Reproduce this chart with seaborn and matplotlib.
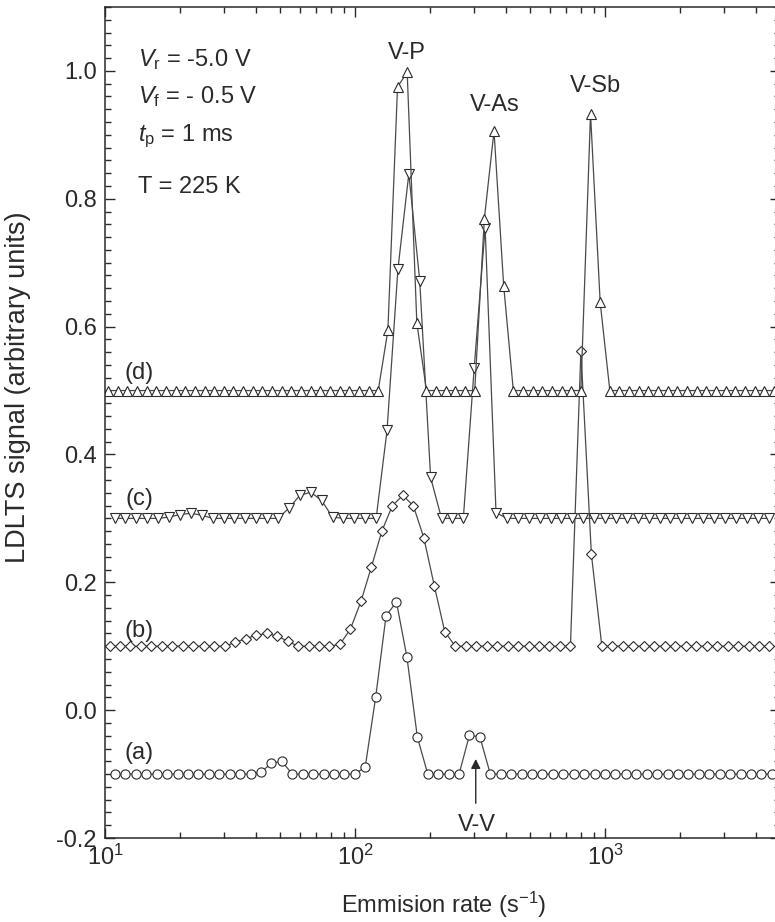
import numpy as np
import matplotlib
matplotlib.use("Agg")
import matplotlib.pyplot as plt
import matplotlib.ticker as mticker
import seaborn as sns

# Sampling grids of each spectrum: log10 of first rate, log10 step, point count
grid_a = (1.040, 0.0417, 64)
grid_b = (1.018, 0.0419, 64)
grid_c = (1.038, 0.0436, 61)
grid_d = (1.012, 0.0386, 70)

# LDLTS signal (arbitrary units), offset spectra
sig_a = [-0.1, -0.1, -0.1, -0.1, -0.1, -0.1, -0.1, -0.1, -0.1, -0.1, -0.1, -0.1, -0.1, -0.1,
         -0.097, -0.083, -0.080,
         -0.1, -0.1, -0.1, -0.1, -0.1, -0.1, -0.1,
         -0.089, 0.020, 0.148, 0.169, 0.083, -0.042,
         -0.1, -0.1, -0.1, -0.1,
         -0.039, -0.042,
         -0.1, -0.1, -0.1, -0.1, -0.1, -0.1, -0.1, -0.1, -0.1, -0.1, -0.1, -0.1, -0.1, -0.1,
         -0.1, -0.1, -0.1, -0.1, -0.1, -0.1, -0.1, -0.1, -0.1, -0.1, -0.1, -0.1, -0.1, -0.1]

sig_b = [0.1, 0.1, 0.1, 0.1, 0.1, 0.1, 0.1, 0.1, 0.1, 0.1, 0.1, 0.1,
         0.106, 0.112, 0.117, 0.120, 0.116, 0.108,
         0.1, 0.1, 0.1, 0.1,
         0.103, 0.127, 0.170, 0.224, 0.280, 0.320, 0.336, 0.320, 0.270, 0.195, 0.123,
         0.1, 0.1, 0.1, 0.1, 0.1, 0.1, 0.1, 0.1, 0.1, 0.1, 0.1, 0.1,
         0.5625, 0.244,
         0.1, 0.1, 0.1, 0.1, 0.1, 0.1, 0.1, 0.1, 0.1, 0.1, 0.1, 0.1, 0.1, 0.1, 0.1, 0.1, 0.1]

sig_c = [0.3, 0.3, 0.3, 0.3, 0.3,
         0.302, 0.306, 0.308, 0.305,
         0.3, 0.3, 0.3, 0.3, 0.3, 0.3, 0.3,
         0.316, 0.336, 0.341, 0.328, 0.302,
         0.3, 0.3, 0.3, 0.3,
         0.4375, 0.690, 0.839, 0.672, 0.364,
         0.3, 0.3, 0.3,
         0.536, 0.755, 0.309,
         0.3, 0.3, 0.3, 0.3, 0.3, 0.3, 0.3, 0.3, 0.3, 0.3, 0.3, 0.3, 0.3,
         0.3, 0.3, 0.3, 0.3, 0.3, 0.3, 0.3, 0.3, 0.3, 0.3, 0.3, 0.3]

sig_d = [0.5, 0.5, 0.5, 0.5, 0.5, 0.5, 0.5, 0.5, 0.5, 0.5, 0.5, 0.5, 0.5, 0.5, 0.5,
         0.5, 0.5, 0.5, 0.5, 0.5, 0.5, 0.5, 0.5, 0.5, 0.5, 0.5, 0.5, 0.5, 0.5,
         0.594, 0.975, 0.998, 0.606,
         0.5, 0.5, 0.5, 0.5, 0.5, 0.5,
         0.769, 0.906, 0.664,
         0.5, 0.5, 0.5, 0.5, 0.5, 0.5, 0.5, 0.5,
         0.933, 0.638,
         0.5, 0.5, 0.5, 0.5, 0.5, 0.5, 0.5, 0.5, 0.5, 0.5, 0.5, 0.5, 0.5, 0.5, 0.5, 0.5, 0.5, 0.5]

y_ticks = [-0.2, 0.0, 0.2, 0.4, 0.6, 0.8, 1.0]


def rates(grid):
    start, step, n = grid
    return np.logspace(start, start + step * (n - 1), n)


sns.set_style("ticks")
plt.rcParams['font.family'] = ['Liberation Sans', 'DejaVu Sans']
plt.rcParams['mathtext.fontset'] = 'custom'
plt.rcParams['mathtext.rm'] = 'Liberation Sans'
plt.rcParams['mathtext.it'] = 'Liberation Sans:italic'
plt.rcParams['axes.unicode_minus'] = False

ink = '#2a2a2a'
line_col = '#4a4a4a'
fs = 17

fig = plt.figure(figsize=(7.75, 9.22), dpi=100)
ax = fig.add_axes([0.1355, 0.0911, 0.871, 0.9013])

common = dict(ax=ax, color=line_col, linewidth=0.9, markerfacecolor='white',
              markeredgecolor=ink, markeredgewidth=0.8, legend=False)
sns.lineplot(x=rates(grid_a), y=sig_a, marker='o', markersize=6.6, **common)
sns.lineplot(x=rates(grid_b), y=sig_b, marker='D', markersize=4.8, **common)
sns.lineplot(x=rates(grid_c), y=sig_c, marker='v', markersize=7.2, **common)
sns.lineplot(x=rates(grid_d), y=sig_d, marker='^', markersize=7.2, **common)

ax.set_xscale('log')
ax.set_xlim(10, 5012)
ax.set_ylim(-0.2, 1.1)
ax.set_yticks(y_ticks)
ax.yaxis.set_major_formatter(mticker.FormatStrFormatter('%.1f'))
ax.yaxis.set_minor_locator(mticker.MultipleLocator(0.02))
ax.xaxis.set_minor_locator(mticker.LogLocator(base=10, subs=np.arange(2, 10)))
ax.xaxis.set_minor_formatter(mticker.NullFormatter())

ax.tick_params(which='both', direction='in', top=True, right=True, colors=ink,
               labelsize=fs, width=1.0)
ax.tick_params(which='major', length=7, pad=6)
ax.tick_params(which='minor', length=4)
ax.tick_params(axis='x', which='major', pad=5)
for sp in ax.spines.values():
    sp.set_color(ink)
    sp.set_linewidth(1.1)

ax.set_xlabel('Emmision rate (s$^{-1}$)', fontsize=fs, color=ink)
ax.set_ylabel('LDLTS signal (arbitrary units)', fontsize=19.5, color=ink)
ax.xaxis.set_label_coords(0.502, -0.062)
ax.yaxis.set_label_coords(-0.110, 0.543)

# measurement conditions
x_par = 13.6
ax.text(x_par, 1.008, r'$V_{\mathrm{r}}$ = -5.0 V', fontsize=fs, color=ink, va='baseline')
ax.text(x_par, 0.950, r'$V_{\mathrm{f}}$ = - 0.5 V', fontsize=fs, color=ink, va='baseline')
ax.text(x_par, 0.891, r'$t_{\mathrm{p}}$ = 1 ms', fontsize=fs, color=ink, va='baseline')
ax.text(x_par, 0.809, 'T = 225 K', fontsize=fs, color=ink, va='baseline')

# spectrum labels
x_lab = 13.7
for lab, yl in [('(a)', -0.067), ('(b)', 0.124), ('(c)', 0.331), ('(d)', 0.528)]:
    ax.text(x_lab, yl, lab, fontsize=fs, color=ink, ha='center', va='center')

# peak labels
ax.text(161, 1.028, 'V-P', fontsize=fs, color=ink, ha='center', va='center')
ax.text(363, 0.947, 'V-As', fontsize=fs, color=ink, ha='center', va='center')
ax.text(912, 0.977, 'V-Sb', fontsize=fs, color=ink, ha='center', va='center')
ax.annotate('', xy=(304, -0.072), xytext=(304, -0.150),
            arrowprops=dict(arrowstyle='-|>', color=ink, lw=1.0, mutation_scale=14))
ax.text(307, -0.180, 'V-V', fontsize=fs, color=ink, ha='center', va='center')

fig.savefig('out.png', dpi=100)
